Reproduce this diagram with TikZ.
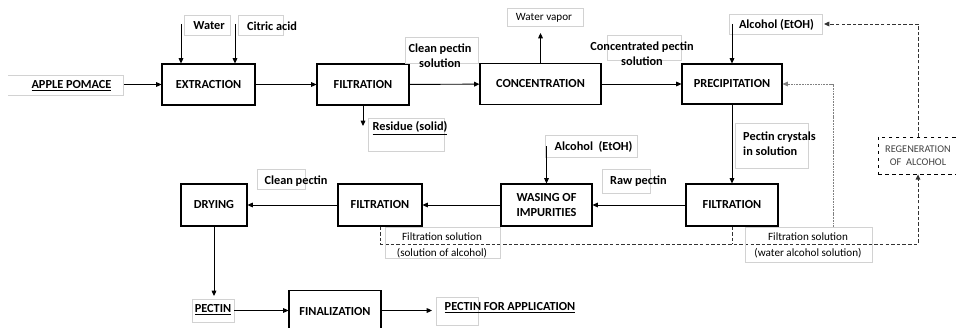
\documentclass[tikz,border=0pt]{standalone}
\usepackage{fontspec}
\setmainfont{Carlito}
\usetikzlibrary{arrows.meta,calc}

\begin{document}
\begin{tikzpicture}[x=0.3cm, y=-0.3cm, >={Triangle[length=4.5pt,width=4pt]},
    proc/.style={draw, line width=0.9pt, align=center, inner sep=0pt, font=\bfseries\fontsize{10.5}{13}\selectfont},
    tag/.style={inner sep=0pt, align=center, font=\bfseries\fontsize{10.5}{13}\selectfont},
    note/.style={inner sep=0pt, align=center, font=\fontsize{9.5}{13.6}\selectfont},
    frame/.style={draw=gray!35, line width=0.6pt},
    flow/.style={->, line width=0.8pt},
    recyc/.style={line width=0.8pt, black!80, dash pattern=on 3pt off 1.8pt}]
    \useasboundingbox (0,0) rectangle (95.6,32.8);
    % top row
    \node[proc, minimum width=2.79cm, minimum height=1.23cm] (extr) at (20.85,8.45) {EXTRACTION};
    \node[proc, minimum width=2.76cm, minimum height=1.23cm] (filt1) at (36.3,8.45) {FILTRATION};
    \node[proc, minimum width=3.63cm, minimum height=1.23cm] (conc) at (54.05,8.4) {CONCENTRATION};
    \node[proc, minimum width=3.0cm, minimum height=1.2cm] (prec) at (73.2,8.4) {PRECIPITATION};
    \draw[frame] (0.8,7.5) -| (12.3,9.5) -- (0.8,9.5);
    \node[tag] (pomace) at (7.15,8.6) {\underline{APPLE POMACE}};
    \coordinate (pom) at (12.4,8.45);
    \draw[flow] (pom) -- (extr);
    \draw[frame] (18.4,1.5) rectangle (23.0,3.5);
    \draw[frame] (23.8,1.5) rectangle (28.3,3.5);
    \node[tag] (water) at (20.9,2.6) {Water};
    \node[tag] (citric) at (27.2,2.6) {Citric acid};
    \coordinate (w0) at (18.1,2.4);
    \coordinate (c0) at (23.5,2.4);
    \draw[flow] (w0) -- (w0 |- extr.north);
    \draw[flow] (c0) -- (c0 |- extr.north);
    \draw[flow] (extr) -- (filt1);
    \draw[frame] (40.5,3.7) rectangle (47.8,6.3);
    \node[tag] (clean1) at (44.0,5.6) {Clean pectin\\solution};
    \draw[flow] (filt1) -- (conc);
    \coordinate (res) at (36.3,12.6);
    \draw[flow] (filt1) -- (res);
    \draw[frame] (36.8,11.8) rectangle (44.4,15.1);
    \node[tag] (residue) at (41.0,12.8) {\underline{Residue (solid)}};
    \draw[frame] (50.7,0.8) rectangle (58.3,2.6);
    \node[note] (vapor) at (54.4,1.75) {Water vapor};
    \coordinate (vap) at (54.05,3.3);
    \draw[flow] (conc) -- (vap);
    \draw[frame] (60.7,3.5) rectangle (68.1,6.0);
    \node[tag] (concsol) at (64.2,5.4) {Concentrated pectin\\solution};
    \draw[flow] (conc) -- (prec);
    \draw[frame] (72.9,1.4) rectangle (82.2,3.4);
    \node[tag] (alc1) at (77.65,2.5) {Alcohol (EtOH)};
    \coordinate (a1) at (73.2,2.4);
    \draw[flow] (a1) -- (prec);
    % bottom row
    \node[proc, minimum width=2.76cm, minimum height=1.26cm] (filt2) at (73.2,20.5) {FILTRATION};
    \node[proc, minimum width=2.73cm, minimum height=1.26cm] (wash) at (54.65,20.5) {WASING OF\\IMPURITIES};
    \node[proc, minimum width=2.52cm, minimum height=1.26cm] (filt3) at (38.0,20.5) {FILTRATION};
    \node[proc, minimum width=1.98cm, minimum height=1.26cm] (dry) at (21.4,20.5) {DRYING};
    \draw[frame] (73.5,12.3) rectangle (80.8,16.8);
    \node[tag, anchor=west, align=left] (crystal) at (74.3,14.35) {Pectin crystals\\in solution};
    \draw[flow] (prec) -- (filt2);
    \draw[frame] (60.2,16.9) rectangle (65.0,19.3);
    \node[tag] (raw) at (63.85,18.1) {Raw pectin};
    \draw[flow] (filt2) -- (wash);
    \draw[frame] (54.5,13.5) rectangle (63.7,15.7);
    \node[tag] (alc2) at (59.35,14.7) {Alcohol\ \ (EtOH)};
    \coordinate (a2) at (54.65,14.6);
    \draw[flow] (a2) -- (wash);
    \draw[flow] (wash) -- (filt3);
    \draw[frame] (25.7,16.9) rectangle (30.5,18.9);
    \node[tag] (clean2) at (29.6,18.1) {Clean pectin};
    \draw[flow] (filt3) -- (dry);
    % recycling of the alcohol
    \node[draw, dashed, line width=0.7pt, minimum width=2.4cm, minimum height=1.11cm, inner sep=0pt, align=center,
      text=black!75, font=\fontsize{8.8}{11}\selectfont] (regen) at (91.8,15.55) {REGENERATION\\OF\ \ ALCOHOL};
    \coordinate (bus) at (91.8,24.4);
    \draw[recyc,->] (filt3.south) |- (bus) -- (regen.south);
    \draw[recyc] (filt2.south) -- (filt2.south |- bus);
    \coordinate (br) at (83.3,22.7);
    \draw[recyc,gray,dash pattern=on 1.5pt off 0.8pt,->] (br) |- (prec.east);
    \coordinate (ret) at (82.4,2.4);
    \draw[recyc,->] (regen.north) |- (ret);
    \draw[frame] (38.5,22.7) rectangle (50.0,25.8);
    \node[note] (sol1) at (44.2,24.55) {Filtration solution\\(solution of alcohol)};
    \draw[frame] (74.5,22.7) rectangle (87.2,26.2);
    \node[note] (sol2) at (80.8,24.5) {Filtration solution\\(water alcohol solution)};
    % end products
    \draw[frame] (19.2,29.9) rectangle (23.4,32.2);
    \node[tag] (pectin) at (21.3,31.0) {\underline{PECTIN}};
    \coordinate (pt) at (21.4,29.6);
    \draw[flow] (dry) -- (pt);
    \node[proc, minimum width=2.76cm, minimum height=1.3cm] (fin) at (33.5,31.2) {FINALIZATION};
    \coordinate (pe) at (23.4,31.05);
    \draw[flow] (pe) -- (pe -| fin.west);
    \draw[frame] (43.6,29.7) rectangle (47.8,32.5);
    \node[tag] (app) at (51.0,30.8) {\underline{PECTIN FOR APPLICATION}};
    \coordinate (ae) at (43.2,31.05);
    \draw[flow] (ae -| fin.east) -- (ae);
\end{tikzpicture}
\end{document}
